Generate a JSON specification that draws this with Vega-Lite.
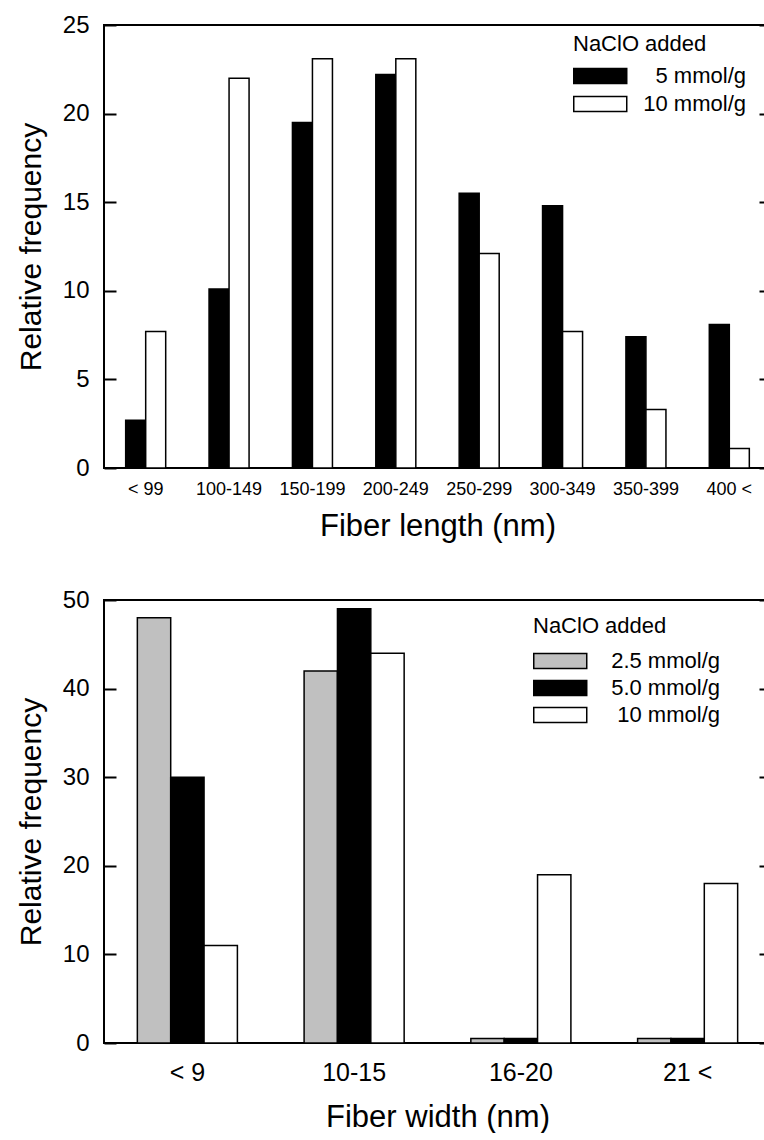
{
  "$schema": "https://vega.github.io/schema/vega-lite/v6.json",
  "background": "white",
  "padding": {"left": 15, "top": 12, "right": 0, "bottom": 0},
  "spacing": 45,
  "resolve": {"scale": {"fill": "independent", "xOffset": "independent", "x": "independent", "y": "independent"}, "legend": {"fill": "independent"}},
  "config": {
    "font": "Liberation Sans",
    "view": {"stroke": "black", "strokeWidth": 2},
    "axis": {"labelFont": "Liberation Sans", "titleFont": "Liberation Sans", "labelColor": "black", "titleColor": "black", "titleFontWeight": "normal", "grid": false, "domain": false},
    "legend": {"labelFont": "Liberation Sans", "titleFont": "Liberation Sans", "labelColor": "black", "titleColor": "black", "titleFontWeight": "normal"}
  },
  "vconcat": [
    {
      "width": 667,
      "height": 443,
      "data": {"values": [
        {"range": "< 99", "series": "5 mmol/g", "freq": 2.7},
        {"range": "< 99", "series": "10 mmol/g", "freq": 7.7},
        {"range": "100-149", "series": "5 mmol/g", "freq": 10.1},
        {"range": "100-149", "series": "10 mmol/g", "freq": 22.0},
        {"range": "150-199", "series": "5 mmol/g", "freq": 19.5},
        {"range": "150-199", "series": "10 mmol/g", "freq": 23.1},
        {"range": "200-249", "series": "5 mmol/g", "freq": 22.2},
        {"range": "200-249", "series": "10 mmol/g", "freq": 23.1},
        {"range": "250-299", "series": "5 mmol/g", "freq": 15.5},
        {"range": "250-299", "series": "10 mmol/g", "freq": 12.1},
        {"range": "300-349", "series": "5 mmol/g", "freq": 14.8},
        {"range": "300-349", "series": "10 mmol/g", "freq": 7.7},
        {"range": "350-399", "series": "5 mmol/g", "freq": 7.4},
        {"range": "350-399", "series": "10 mmol/g", "freq": 3.3},
        {"range": "400 <", "series": "5 mmol/g", "freq": 8.1},
        {"range": "400 <", "series": "10 mmol/g", "freq": 1.1}
      ]},
      "layer": [
        {
          "mark": {"type": "bar", "stroke": "black", "strokeWidth": 1.5},
          "encoding": {
            "x": {"field": "range", "type": "nominal", "sort": null,
              "scale": {"paddingInner": 0.52, "paddingOuter": 0.26},
              "axis": {"orient": "bottom", "title": "Fiber length (nm)", "labelAngle": 0, "ticks": false, "labelFontSize": 18, "labelPadding": 12, "titleFontSize": 31, "titlePadding": 13}},
            "xOffset": {"field": "series", "type": "nominal", "sort": ["5 mmol/g", "10 mmol/g"]},
            "y": {"field": "freq", "type": "quantitative",
              "scale": {"domain": [0, 25], "nice": false},
              "axis": {"orient": "left", "title": "Relative frequency", "values": [0, 5, 10, 15, 20, 25], "tickSize": -12, "tickWidth": 2, "tickColor": "black", "labelFontSize": 24, "labelPadding": 27, "titleFontSize": 30, "titlePadding": 16}},
            "fill": {"field": "series", "type": "nominal", "sort": ["5 mmol/g", "10 mmol/g"],
              "scale": {"range": ["black", "white"]},
              "legend": {"orient": "none", "legendX": 469, "legendY": 9, "title": "NaClO added", "titleFontSize": 22, "titlePadding": 6, "labelFontSize": 22, "labelAlign": "right", "labelOffset": 145, "labelLimit": 200, "rowPadding": 3,
                "symbolType": "M-1,-0.56H3V0.56H-1Z", "symbolSize": 702, "symbolStrokeColor": "black", "symbolStrokeWidth": 1.5}}
          }
        },
        {
          "data": {"values": [{"zero": 0}]},
          "mark": {"type": "rule", "opacity": 0},
          "encoding": {
            "y": {"field": "zero", "type": "quantitative",
              "axis": {"orient": "right", "title": null, "labels": false, "values": [0, 5, 10, 15, 20, 25], "tickSize": -12, "tickWidth": 2, "tickColor": "black"}}
          }
        }
      ],
      "resolve": {"axis": {"y": "independent"}}
    },
    {
      "width": 667,
      "height": 443,
      "data": {"values": [
        {"range": "< 9", "series": "2.5 mmol/g", "freq": 48},
        {"range": "< 9", "series": "5.0 mmol/g", "freq": 30},
        {"range": "< 9", "series": "10 mmol/g", "freq": 11},
        {"range": "10-15", "series": "2.5 mmol/g", "freq": 42},
        {"range": "10-15", "series": "5.0 mmol/g", "freq": 49},
        {"range": "10-15", "series": "10 mmol/g", "freq": 44},
        {"range": "16-20", "series": "2.5 mmol/g", "freq": 0.5},
        {"range": "16-20", "series": "5.0 mmol/g", "freq": 0.5},
        {"range": "16-20", "series": "10 mmol/g", "freq": 19},
        {"range": "21 <", "series": "2.5 mmol/g", "freq": 0.5},
        {"range": "21 <", "series": "5.0 mmol/g", "freq": 0.5},
        {"range": "21 <", "series": "10 mmol/g", "freq": 18}
      ]},
      "layer": [
        {
          "mark": {"type": "bar", "stroke": "black", "strokeWidth": 1.5},
          "encoding": {
            "x": {"field": "range", "type": "nominal", "sort": null,
              "scale": {"paddingInner": 0.4, "paddingOuter": 0.2},
              "axis": {"orient": "bottom", "title": "Fiber width (nm)", "labelAngle": 0, "ticks": false, "labelFontSize": 25, "labelPadding": 17, "titleFontSize": 31, "titlePadding": 17}},
            "xOffset": {"field": "series", "type": "nominal", "sort": ["2.5 mmol/g", "5.0 mmol/g", "10 mmol/g"]},
            "y": {"field": "freq", "type": "quantitative",
              "scale": {"domain": [0, 50], "nice": false},
              "axis": {"orient": "left", "title": "Relative frequency", "values": [0, 10, 20, 30, 40, 50], "tickSize": -12, "tickWidth": 2, "tickColor": "black", "labelFontSize": 24, "labelPadding": 27, "titleFontSize": 30, "titlePadding": 16}},
            "fill": {"field": "series", "type": "nominal", "sort": ["2.5 mmol/g", "5.0 mmol/g", "10 mmol/g"],
              "scale": {"range": ["#c0c0c0", "black", "white"]},
              "legend": {"orient": "none", "legendX": 429, "legendY": 16, "title": "NaClO added", "titleFontSize": 22, "titlePadding": 9, "labelFontSize": 22, "labelAlign": "right", "labelOffset": 159, "labelLimit": 200, "rowPadding": 2,
                "symbolType": "M-1,-0.56H3V0.56H-1Z", "symbolSize": 702, "symbolStrokeColor": "black", "symbolStrokeWidth": 1.5}}
          }
        },
        {
          "data": {"values": [{"zero": 0}]},
          "mark": {"type": "rule", "opacity": 0},
          "encoding": {
            "y": {"field": "zero", "type": "quantitative",
              "axis": {"orient": "right", "title": null, "labels": false, "values": [0, 10, 20, 30, 40, 50], "tickSize": -12, "tickWidth": 2, "tickColor": "black"}}
          }
        }
      ],
      "resolve": {"axis": {"y": "independent"}}
    }
  ]
}
